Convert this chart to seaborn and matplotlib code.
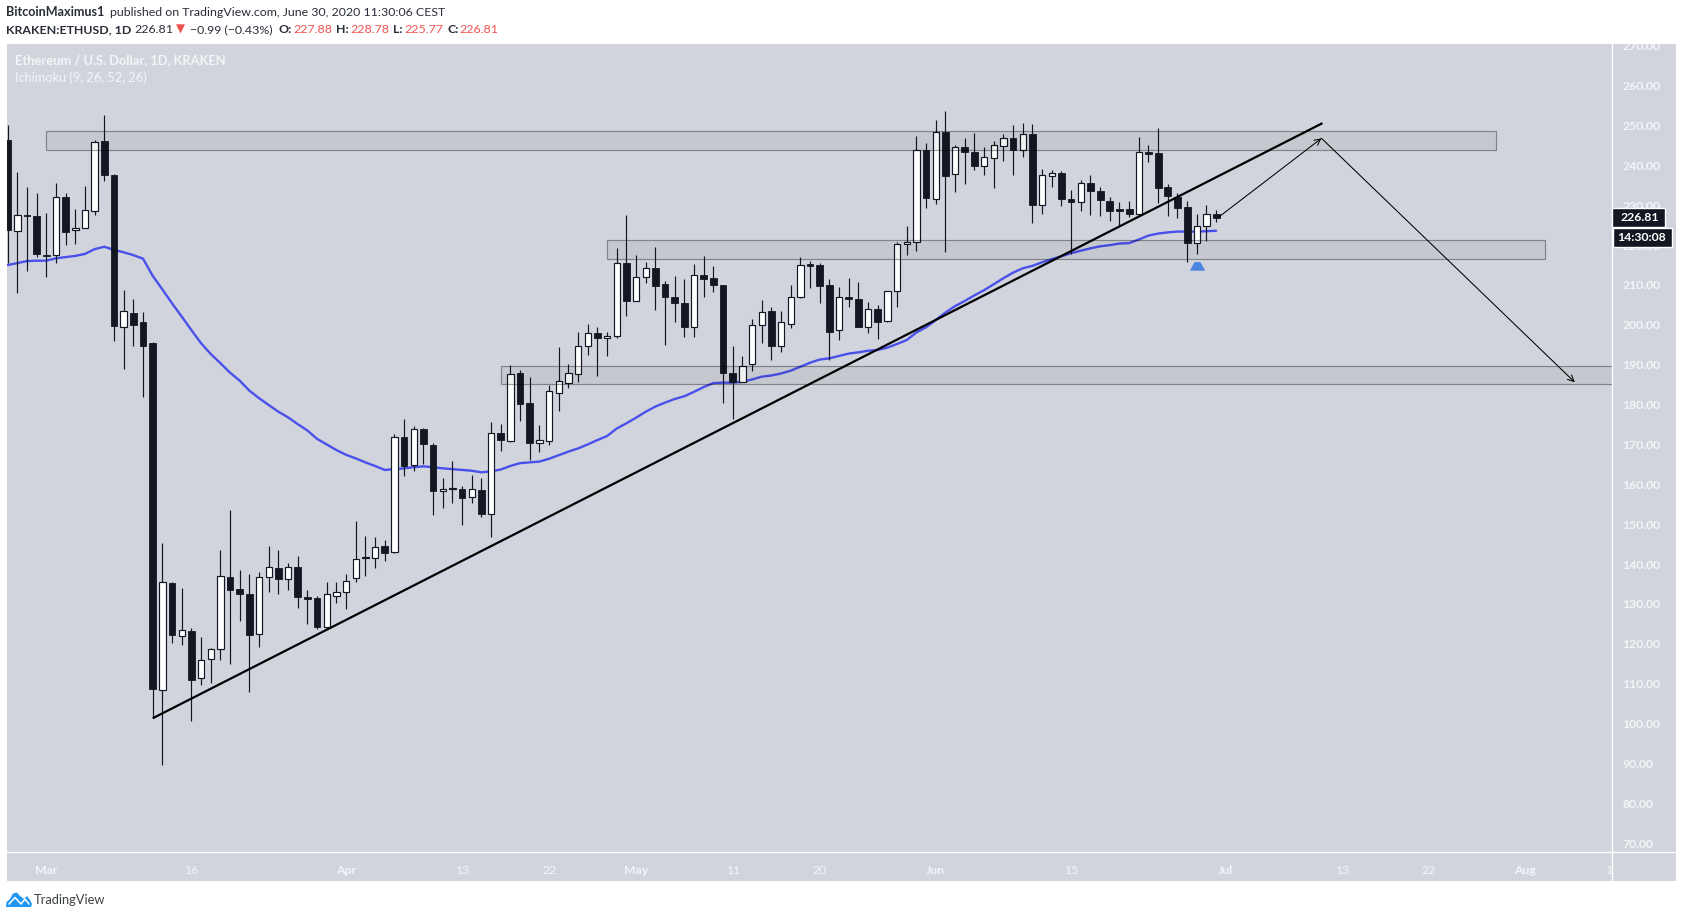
import matplotlib
matplotlib.use("Agg")
import numpy as np
import pandas as pd
import matplotlib.pyplot as plt
import seaborn as sns
from matplotlib.lines import Line2D
from matplotlib.patches import Polygon, Rectangle
from matplotlib.transforms import Bbox

W, H = 1683, 918

# daily candles, first one is Feb 26 2020 (day -4), last is Jun 30 (day 121)
first_day = -4
opens = [246.4, 223.6, 227.4, 227.3, 217.5, 217.4, 232.0, 223.7, 224.4, 228.6, 246.1, 237.6, 199.5, 203.0, 200.7, 195.5,
         108.3, 135.2, 122.0, 123.1, 111.3, 116.1, 118.6, 136.7, 133.7, 132.6, 122.4, 136.7, 138.9, 136.3, 139.2, 131.6,
         131.4, 124.3, 132.1, 133.1, 136.4, 141.4, 141.4, 144.4, 142.9, 171.8, 164.8, 173.8, 169.8, 158.2, 158.7, 158.7,
         156.9, 158.6, 152.6, 172.8, 170.9, 187.8, 180.3, 170.4, 170.9, 183.0, 185.5, 187.7, 194.6, 197.9, 196.8, 197.1,
         215.4, 206.1, 211.9, 214.2, 210.2, 207.1, 205.6, 199.4, 212.4, 211.7, 209.9, 187.8, 185.7, 190.1, 199.9, 203.4,
         194.6, 200.1, 206.9, 214.9, 214.9, 209.9, 198.6, 207.1, 206.6, 199.5, 204.1, 200.9, 208.4, 220.2, 220.7, 243.8,
         231.5, 248.5, 237.8, 244.5, 243.3, 239.9, 241.9, 244.9, 246.8, 243.8, 248.0, 230.1, 237.4, 238.0, 231.5, 230.9,
         235.5, 233.5, 231.0, 228.8, 229.0, 227.9, 243.3, 243.0, 234.5, 232.2, 229.5, 220.6, 224.9, 227.88]
highs = [250.1, 238.3, 234.5, 233.2, 228.0, 235.5, 233.0, 229.0, 234.8, 246.4, 252.7, 237.8, 208.7, 206.5, 203.2, 195.8,
         145.2, 135.4, 134.0, 123.9, 121.6, 118.9, 143.5, 153.6, 138.5, 137.5, 138.1, 144.5, 143.5, 140.2, 142.0, 133.5,
         132.0, 135.5, 135.5, 137.5, 150.8, 147.0, 146.8, 146.0, 172.6, 176.5, 174.6, 174.1, 170.4, 161.5, 165.8, 159.6,
         162.3, 161.5, 175.6, 175.1, 189.9, 188.7, 186.8, 174.9, 184.9, 194.4, 190.3, 198.1, 200.2, 199.4, 198.1, 219.2,
         227.5, 217.5, 215.7, 219.5, 210.9, 212.2, 211.5, 215.3, 217.3, 214.8, 210.0, 194.8, 192.3, 201.5, 206.2, 204.5,
         203.5, 209.9, 216.9, 216.0, 215.4, 211.5, 209.5, 211.7, 210.7, 205.7, 204.9, 208.5, 220.7, 224.8, 247.4, 245.7,
         251.4, 253.6, 245.1, 246.9, 248.1, 244.6, 246.1, 247.9, 250.1, 250.6, 250.4, 239.2, 238.8, 238.7, 233.8, 236.3,
         237.6, 234.5, 232.2, 230.8, 231.0, 247.1, 245.1, 249.4, 235.3, 233.2, 231.0, 227.8, 230.1, 228.78]
lows = [215.4, 208.1, 213.6, 216.9, 212.1, 215.6, 220.0, 220.3, 224.4, 227.6, 236.1, 196.0, 188.9, 194.7, 182.0, 101.3,
        89.7, 120.3, 119.7, 100.7, 109.6, 110.2, 115.8, 114.9, 125.8, 108.0, 119.3, 133.0, 132.6, 133.5, 129.0, 125.0,
        123.8, 124.0, 130.3, 128.8, 135.6, 137.0, 139.1, 140.8, 142.8, 162.1, 163.4, 165.1, 152.3, 154.1, 155.4, 149.8,
        155.4, 151.9, 146.9, 168.4, 170.7, 176.0, 166.1, 168.2, 169.9, 178.5, 184.1, 185.7, 192.4, 187.2, 192.3, 196.8,
        202.3, 206.0, 210.6, 203.7, 194.9, 200.7, 197.0, 197.0, 207.1, 208.2, 180.5, 176.4, 185.6, 188.5, 195.5, 191.2,
        193.3, 199.2, 206.8, 209.3, 205.6, 191.3, 196.3, 204.6, 199.4, 198.0, 196.5, 200.8, 204.6, 217.5, 218.6, 229.4,
        230.3, 218.3, 233.4, 235.3, 238.8, 237.6, 234.3, 241.1, 237.6, 242.1, 225.5, 227.8, 234.6, 229.8, 217.9, 228.6,
        227.5, 227.3, 226.1, 224.8, 227.1, 227.3, 240.9, 230.6, 227.3, 226.8, 215.7, 217.7, 221.0, 225.77]
closes = [223.8, 227.5, 227.2, 217.8, 217.3, 232.0, 223.4, 224.4, 228.7, 245.8, 237.6, 199.7, 203.4, 200.0, 194.7, 108.7,
          135.4, 122.3, 123.4, 111.0, 116.0, 118.6, 136.9, 133.6, 132.6, 122.3, 136.7, 139.2, 136.3, 139.2, 131.6, 131.3,
          124.3, 132.4, 133.1, 135.8, 141.3, 141.5, 144.3, 142.8, 171.8, 164.7, 173.8, 170.0, 158.2, 158.7, 158.8, 156.6,
          158.7, 152.6, 172.8, 171.0, 187.6, 180.1, 170.4, 171.1, 183.3, 185.8, 187.8, 194.6, 197.9, 196.8, 196.9, 215.4,
          206.1, 211.9, 214.2, 209.8, 207.1, 205.6, 199.5, 212.4, 211.6, 210.1, 188.0, 185.7, 189.7, 200.0, 203.3, 194.8,
          200.6, 206.9, 214.9, 214.8, 209.8, 198.3, 207.1, 206.5, 199.5, 204.1, 200.8, 208.4, 220.2, 220.7, 243.8, 231.7,
          248.5, 237.4, 244.5, 243.4, 239.8, 242.0, 245.0, 246.8, 243.8, 248.0, 230.0, 237.5, 238.0, 231.6, 230.9, 235.5,
          233.6, 231.3, 228.6, 228.6, 227.8, 243.3, 242.9, 234.4, 232.4, 229.4, 220.6, 224.9, 227.7, 226.81]

base_line = [215.0, 215.5, 216.0, 216.1, 216.1, 216.7, 217.0, 217.3, 217.8, 219.0, 219.6, 218.8, 218.2, 217.5, 216.6, 212.3,
             208.9, 205.4, 202.1, 198.7, 195.4, 192.7, 190.4, 188.0, 186.0, 183.5, 181.6, 179.9, 178.2, 176.8, 175.1, 173.5,
             171.4, 170.0, 168.6, 167.4, 166.5, 165.5, 164.6, 163.6, 163.8, 164.0, 164.3, 164.5, 164.3, 164.0, 163.8, 163.6,
             163.4, 163.0, 163.25, 163.7, 164.6, 165.3, 165.5, 165.7, 166.4, 167.3, 168.2, 169.0, 170.0, 171.1, 172.1, 174.0,
             175.3, 176.7, 178.2, 179.5, 180.5, 181.4, 182.1, 183.2, 184.4, 185.4, 185.5, 185.5, 185.7, 186.3, 187.0, 187.3,
             187.8, 188.5, 189.5, 190.5, 191.3, 191.6, 192.2, 192.8, 193.1, 193.5, 193.7, 194.3, 195.2, 196.2, 198.1, 199.4,
             201.2, 203.1, 204.7, 206.0, 207.4, 208.7, 210.2, 211.7, 213.1, 214.2, 214.8, 215.7, 216.5, 217.2, 218.0, 218.6,
             219.2, 219.7, 220.0, 220.4, 220.5, 221.4, 222.4, 222.9, 223.2, 223.4, 223.4, 223.4, 223.5, 223.6]

# drawn boxes: start day, end day, low, high
zone_starts = [0, 58, 47]
zone_ends = [150, 155, 175]
zone_lows = [243.8, 216.6, 185.2]
zone_highs = [248.7, 221.2, 189.8]

trend_days = [11, 132]
trend_prices = [101.3, 250.6]
arrow_days = [121.3, 131.9, 158.1]
arrow_prices = [227.1, 246.8, 185.6]
signal_day = 119
signal_price = 214.7

price_ticks = list(range(70, 280, 10))
date_ticks = [0, 15, 31, 43, 52, 61, 71, 80, 92, 106, 122, 134, 143, 153, 162]
date_labels = ["Mar", "16", "Apr", "13", "22", "May", "11", "20", "Jun", "15", "Jul", "13", "22", "Aug", "10"]
month_labels = ["Mar", "Apr", "May", "Jun", "Jul", "Aug"]

BG = "#D1D4DC"
DARK = "#131722"
RED = "#EF5350"
LIGHT = "#F4F5F7"
TEXT = "#2A2E39"

sns.set_theme(style="white")
plt.rcParams["font.family"] = ["Lato", "DejaVu Sans"]


def fx(x):
    return x / W


def fy(y):
    return 1 - y / H


def put(x, y, s, **kw):
    kw.setdefault("va", "center")
    kw.setdefault("fontsize", 8.95)
    kw.setdefault("color", TEXT)
    return fig.text(fx(x), fy(y), s, **kw)


fig = plt.figure(figsize=(W / 100, H / 100), dpi=100, facecolor="white")
fig.add_artist(Rectangle((fx(7), fy(881)), fx(1669), 837 / H, transform=fig.transFigure,
                         facecolor=BG, edgecolor="none", zorder=-5))
ax = fig.add_axes([fx(7), fy(852), fx(1605.5), 808 / H], facecolor=BG)

df = pd.DataFrame({"open": opens, "high": highs, "low": lows, "close": closes, "base": base_line})
df["day"] = first_day + df.index
up = df[df["close"] >= df["open"]]
down = df[df["close"] < df["open"]]

sns.lineplot(data=df, x="day", y="base", color="#4A50EA", linewidth=1.7, ax=ax, zorder=2)

ax.vlines(df["day"], df["low"], df["high"], color=DARK, linewidth=0.85, zorder=3)
ax.bar(up["day"], (up["close"] - up["open"]).clip(lower=0.35), bottom=up["open"], width=0.66,
       facecolor="white", edgecolor=DARK, linewidth=0.85, zorder=4)
ax.bar(down["day"], (down["open"] - down["close"]).clip(lower=0.35), bottom=down["close"], width=0.7,
       facecolor=DARK, edgecolor=DARK, linewidth=0.6, zorder=4)

for start, end, low, high in zip(zone_starts, zone_ends, zone_lows, zone_highs):
    ax.add_patch(Rectangle((start, low), end - start, high - low, facecolor=(0, 0, 0, 0.055),
                           edgecolor=(0, 0, 0, 0.36), linewidth=0.85, zorder=5))

ax.plot(trend_days, trend_prices, color="black", linewidth=1.6, zorder=6, solid_capstyle="butt")
for i in range(2):
    ax.annotate("", xy=(arrow_days[i + 1], arrow_prices[i + 1]), xytext=(arrow_days[i], arrow_prices[i]),
                arrowprops=dict(arrowstyle="->", color="black", linewidth=0.75, mutation_scale=11,
                                shrinkA=0, shrinkB=0), zorder=6)
ax.plot([signal_day], [signal_price], linestyle="none", color="#4A86E0", markersize=11,
        marker=[(-1.0, -0.55), (1.0, -0.55), (0.4, 0.55), (0.0, 0.6), (-0.4, 0.55)], markeredgewidth=0, zorder=6)

ax.set_xlim(-4.07, 161.8)
ax.set_ylim(67.75, 270.46)
ax.set_xlabel("")
ax.set_ylabel("")
ax.set_xticks(date_ticks)
ax.set_xticklabels(date_labels)
ax.set_yticks(price_ticks)
ax.set_yticklabels([f"{p:.2f}" for p in price_ticks])
ax.yaxis.tick_right()
ax.tick_params(axis="x", length=3, width=0.8, color="white", labelcolor=LIGHT, labelsize=8.8, pad=6.5)
ax.tick_params(axis="y", length=3.5, width=0.8, color="white", labelcolor=LIGHT, labelsize=8.8, pad=3.5)
sns.despine(ax=ax, top=True, left=True, right=False, bottom=False)
for side in ["bottom", "right"]:
    ax.spines[side].set_color("white")
    ax.spines[side].set_linewidth(1.0)

# the labels at the pane edges get cut in the original
for label in ax.get_xticklabels():
    label.set_clip_box(Bbox([[0, 0], [1612, H]]))
    label.set_clip_on(True)
    if label.get_text() in month_labels:
        label.set_fontweight("bold")
for label in ax.get_yticklabels():
    label.set_clip_box(Bbox([[1613, 0], [W, H - 44]]))
    label.set_clip_on(True)
    label.set_fontweight("bold")

fig.add_artist(Line2D([fx(1612), fx(1676)], [fy(852), fy(852)], color="white", linewidth=1.0))
fig.add_artist(Line2D([fx(1612.5), fx(1612.5)], [fy(852), fy(881)], color="white", linewidth=1.0))

# last price and countdown boxes
fig.add_artist(Rectangle((fx(1612), fy(227)), fx(53), 19 / H, transform=fig.transFigure, facecolor=DARK, zorder=3))
fig.add_artist(Rectangle((fx(1613), fy(247)), fx(59), 19 / H, transform=fig.transFigure, facecolor=DARK, zorder=3))
put(1621, 217.5, "226.81", color="white", fontsize=8.8, fontweight="bold", zorder=4)
put(1617.5, 237.5, "14:30:08", color="white", fontsize=8.8, fontweight="bold", zorder=4)

# header rows
put(6.5, 12.5, "BitcoinMaximus1", fontweight="bold", fontsize=9.1)
put(110, 12.5, "published on TradingView.com, June 30, 2020 11:30:06 CEST")
put(6.5, 29.5, "KRAKEN:ETHUSD, 1D", fontweight="bold")
put(134, 29.5, "226.81")
put(176, 29.5, "▼", color=RED, family="DejaVu Sans", fontsize=8.5)
put(190, 29.5, "−0.99 (−0.43%)")
for x_key, key, x_val, val in [(279, "O:", 293, "227.88"), (336, "H:", 350, "228.78"),
                               (393, "L:", 404, "225.77"), (447, "C:", 459, "226.81")]:
    put(x_key, 29.5, key, fontweight="bold")
    put(x_val, 29.5, val, color=RED)

# pane legend
put(15.5, 60.5, "Ethereum / U.S. Dollar, 1D, KRAKEN", color=LIGHT, fontsize=9.25, fontweight="bold")
put(15.5, 77.5, "Ichimoku (9, 26, 52, 26)", color=LIGHT, fontsize=9.2)

# footer logo
cloud = [(6, 907), (6.5, 902), (10, 899), (13, 893.5), (17, 892.5), (20, 896), (24, 899), (27, 896), (30, 900),
         (32, 904), (31, 907)]
fig.add_artist(Polygon([(fx(x), fy(y)) for x, y in cloud], closed=True, transform=fig.transFigure,
                       facecolor="#2196F3", edgecolor="none"))
fig.add_artist(Line2D([fx(x) for x in (9, 15, 21, 25, 29)], [fy(y) for y in (904, 897.5, 904, 899, 904)],
                      color="white", linewidth=1.1))
put(34, 899.5, "TradingView", color="#3C4043", fontsize=9.3)

fig.savefig("out.png", dpi=100)
